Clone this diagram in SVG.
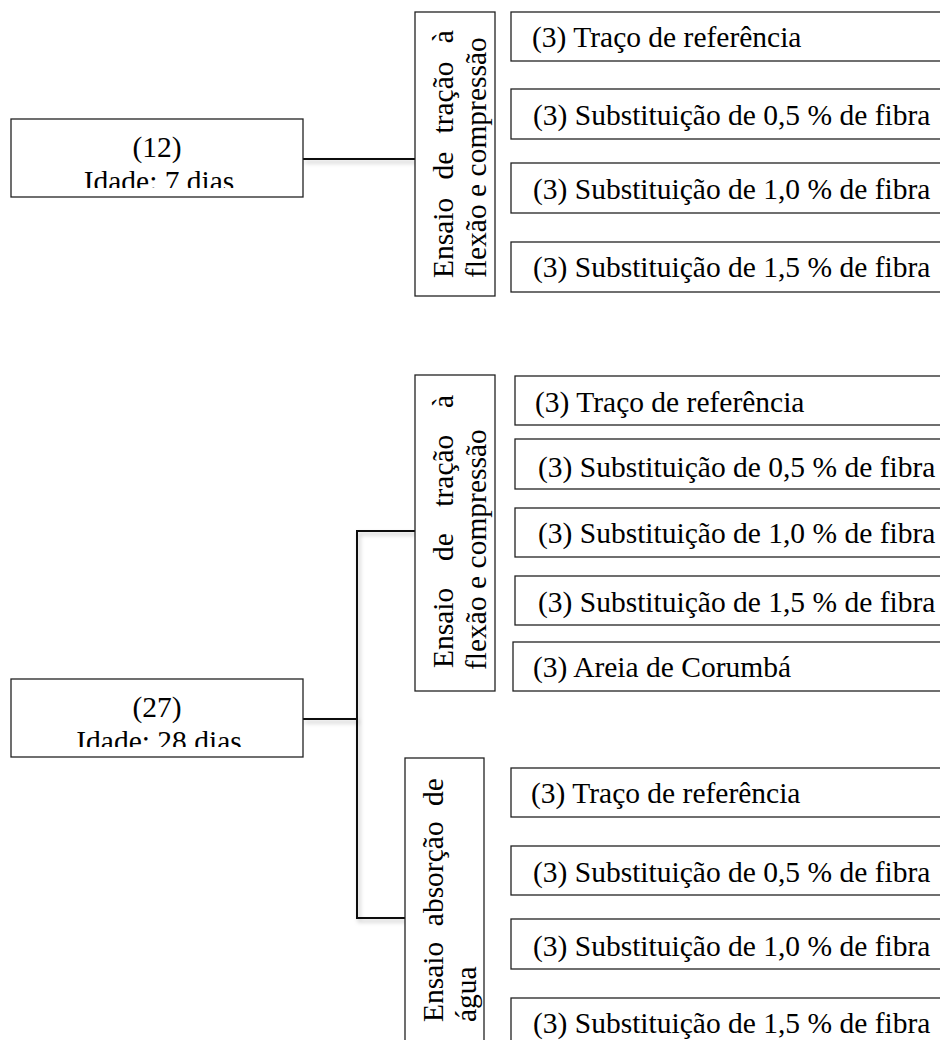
<svg xmlns="http://www.w3.org/2000/svg" width="940" height="1040" viewBox="0 0 940 1040">
<style>
  .box { fill: #ffffff; stroke: #222222; stroke-width: 1.3; }
  .t { font-family: "Liberation Serif", "Times New Roman", serif; font-size: 29.5px; fill: #000000; }
  .c { text-anchor: middle; }
  .conn { fill: none; stroke: #111111; stroke-width: 2; filter: url(#sh); }
</style>
<defs>
  <filter id="sh" filterUnits="userSpaceOnUse" x="0" y="0" width="940" height="1040">
    <feDropShadow dx="2" dy="3" stdDeviation="2" flood-color="#000000" flood-opacity="0.25"/>
  </filter>
  <clipPath id="clip12"><rect x="11" y="119" width="292" height="69"/></clipPath>
  <clipPath id="clip27"><rect x="11" y="679" width="292" height="68"/></clipPath>
</defs>
<rect width="940" height="1040" fill="#ffffff"/>

<g id="connectors">
  <path class="conn" d="M303,159 H415"/>
  <path class="conn" d="M303,719 H357"/>
  <path class="conn" d="M415,531 H357 V918 H405"/>
</g>

<!-- Top section -->
<g id="node-12">
  <rect class="box" x="11" y="119" width="292" height="78"/>
  <g clip-path="url(#clip12)">
    <text class="t c" x="157" y="157">(12)</text>
    <text class="t c" x="159" y="191">Idade: 7 dias</text>
  </g>
</g>

<g id="node-ensaio-tracao-7">
  <rect class="box" x="415" y="12" width="80" height="284"/>
  <g transform="translate(415,296) rotate(-90)">
    <text class="t" y="38"><tspan x="18">Ensaio</tspan><tspan x="116.5">de</tspan><tspan x="162.5">tração</tspan><tspan x="252.8">à</tspan></text>
    <text class="t" x="18" y="71">flexão e compressão</text>
  </g>
</g>

<g id="node-7-ref">
  <rect class="box" x="511" y="12" width="440" height="49"/>
  <text class="t" x="532" y="47">(3) Traço de referência</text>
</g>
<g id="node-7-05">
  <rect class="box" x="511" y="89" width="440" height="50"/>
  <text class="t" x="533" y="125">(3) Substituição de 0,5 % de fibra</text>
</g>
<g id="node-7-10">
  <rect class="box" x="511" y="163" width="440" height="50"/>
  <text class="t" x="533" y="199">(3) Substituição de 1,0 % de fibra</text>
</g>
<g id="node-7-15">
  <rect class="box" x="511" y="242" width="440" height="50"/>
  <text class="t" x="533" y="277">(3) Substituição de 1,5 % de fibra</text>
</g>

<!-- Bottom section -->
<g id="node-27">
  <rect class="box" x="11" y="679" width="292" height="78"/>
  <g clip-path="url(#clip27)">
    <text class="t c" x="157" y="717">(27)</text>
    <text class="t c" x="159" y="751">Idade: 28 dias</text>
  </g>
</g>

<g id="node-ensaio-tracao-28">
  <rect class="box" x="415" y="375" width="80" height="316"/>
  <g transform="translate(415,691) rotate(-90)">
    <text class="t" y="38"><tspan x="23">Ensaio</tspan><tspan x="129.9">de</tspan><tspan x="184.3">tração</tspan><tspan x="283">à</tspan></text>
    <text class="t" x="21" y="71">flexão e compressão</text>
  </g>
</g>

<g id="node-28-ref">
  <rect class="box" x="515" y="376" width="440" height="49"/>
  <text class="t" x="535" y="412">(3) Traço de referência</text>
</g>
<g id="node-28-05">
  <rect class="box" x="515" y="439" width="440" height="50"/>
  <text class="t" x="538" y="477">(3) Substituição de 0,5 % de fibra</text>
</g>
<g id="node-28-10">
  <rect class="box" x="515" y="508" width="440" height="49"/>
  <text class="t" x="538" y="543">(3) Substituição de 1,0 % de fibra</text>
</g>
<g id="node-28-15">
  <rect class="box" x="515" y="576" width="440" height="49"/>
  <text class="t" x="538" y="612">(3) Substituição de 1,5 % de fibra</text>
</g>
<g id="node-28-areia">
  <rect class="box" x="513" y="642" width="440" height="49"/>
  <text class="t" x="533" y="677">(3) Areia de Corumbá</text>
</g>

<g id="node-ensaio-absorcao">
  <rect class="box" x="405" y="758" width="79" height="300"/>
  <g transform="translate(405,1040) rotate(-90)">
    <text class="t" y="38"><tspan x="18">Ensaio</tspan><tspan x="113.8">absorção</tspan><tspan x="234.1">de</tspan></text>
    <text class="t" x="18" y="71">água</text>
  </g>
</g>

<g id="node-abs-ref">
  <rect class="box" x="511" y="768" width="440" height="49"/>
  <text class="t" x="531" y="803">(3) Traço de referência</text>
</g>
<g id="node-abs-05">
  <rect class="box" x="511" y="846" width="440" height="49"/>
  <text class="t" x="533" y="882">(3) Substituição de 0,5 % de fibra</text>
</g>
<g id="node-abs-10">
  <rect class="box" x="511" y="919" width="440" height="50"/>
  <text class="t" x="533" y="956">(3) Substituição de 1,0 % de fibra</text>
</g>
<g id="node-abs-15">
  <rect class="box" x="511" y="998" width="440" height="60"/>
  <text class="t" x="533" y="1033">(3) Substituição de 1,5 % de fibra</text>
</g>
</svg>
